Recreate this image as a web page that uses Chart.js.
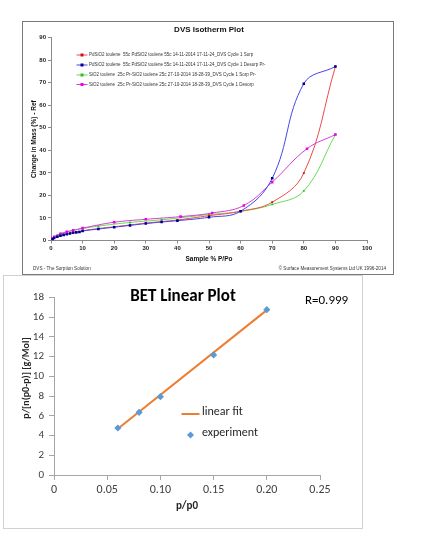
<!DOCTYPE html>
<html>
<head>
<meta charset="utf-8">
<script src="https://cdn.jsdelivr.net/npm/chart.js@4.4.1/dist/chart.umd.min.js"></script>
<style>
  html, body { margin: 0; padding: 0; background: #fff; }
  body { width: 422px; height: 552px; position: relative; overflow: hidden; }
  .box { position: absolute; background: #fff; }
  #isoBox { left: 22px; top: 21px; width: 370px; height: 252px; border: 1px solid #7a7a7a; }
  #betBox { left: 3px; top: 275px; width: 358px; height: 252px; border: 1px solid #d0d0d0; }
  canvas { display: block; }
</style>
</head>
<body>
<div class="box" id="isoBox"><canvas id="isoChart" width="370" height="252"></canvas></div>
<div class="box" id="betBox"><canvas id="betChart" width="358" height="252"></canvas></div>
<script>
// ---- DVS isotherm data ----
const isoNames = [
  'PdSiO2 toulene  55c PdSiO2 toulene 55c 14-11-2014 17-11-24_DVS Cycle 1 Sorp',
  'PdSiO2 toulene  55c PdSiO2 toulene 55c 14-11-2014 17-11-24_DVS Cycle 1 Desorp Pr-',
  'SiO2 toulene  25c Pr-SiO2 toulene 25c 27-10-2014 18-28-39_DVS Cycle 1 Sorp Pr-',
  'SiO2 toulene  25c Pr-SiO2 toulene 25c 27-10-2014 18-28-39_DVS Cycle 1 Desorp'
];
const pdPressure = [0.5, 1, 2, 3, 4, 5, 6, 7, 8, 9, 10, 15, 20, 25, 30, 35, 40, 50, 60, 70, 80, 90];
const pdSorp     = [0.7, 1.2, 1.8, 2.2, 2.6, 2.9, 3.2, 3.5, 3.7, 3.9, 4.3, 5.3, 6.1, 6.9, 7.7, 8.4, 9.1, 11.0, 13.0, 17.0, 29.9, 77.2];
const pdDesorp   = [0.6, 1.1, 1.7, 2.1, 2.5, 2.8, 3.1, 3.4, 3.6, 3.8, 4.2, 5.1, 5.9, 6.7, 7.5, 8.2, 8.8, 10.3, 13.0, 27.6, 69.6, 77.2];
const siSorpPressure = [0.5, 1, 2, 3, 5, 7, 10, 15, 25, 35, 50, 60, 70, 80, 90];
const siSorp         = [1.0, 1.6, 2.4, 3.0, 3.8, 4.5, 5.3, 6.4, 8.0, 9.2, 11.5, 12.9, 16.0, 22.0, 47.0];
const siDesorpPressure = [0.3, 1, 3, 5, 7, 10, 20, 30, 41, 51, 61, 70, 81, 90];
const siDesorp         = [1.0, 1.7, 3.0, 3.9, 4.5, 5.5, 8.1, 9.4, 10.6, 12.2, 15.5, 25.9, 40.7, 47.0];
const isoTicksY = [0, 10, 20, 30, 40, 50, 60, 70, 80, 90];
const isoTicksX = [0, 10, 20, 30, 40, 50, 60, 70, 80, 90, 100];

// ---- BET linear plot data ----
const betX = [0.06, 0.08, 0.1, 0.15, 0.2];
const betY = [4.76, 6.35, 7.93, 12.16, 16.75];
const fitX = [0.06, 0.2];
const fitY = [4.68, 16.7];
const betTicksY = [0, 2, 4, 6, 8, 10, 12, 14, 16, 18];
const betTicksX = [0, 0.05, 0.1, 0.15, 0.2, 0.25];

function pts(xs, ys) {
  return xs.map((x, i) => ({ x: x, y: ys[i] }));
}

const isoFont = '"Liberation Sans", Arial, sans-serif';
const isoColors = [
  { line: '#f04a4a', point: '#d01010' },
  { line: '#4444ee', point: '#000090' },
  { line: '#66dd55', point: '#33bb33' },
  { line: '#d040d0', point: '#ee00ee' }
];

// extra texts + in-plot legend for the isotherm chart
const isoExtras = {
  id: 'isoExtras',
  afterDraw(chart) {
    const ctx = chart.ctx;
    const a = chart.chartArea;
    ctx.save();
    ctx.fillStyle = '#111';
    ctx.textBaseline = 'middle';
    ctx.textAlign = 'center';
    ctx.font = 'bold 8px ' + isoFont;
    ctx.fillText('DVS Isotherm Plot', (a.left + a.right) / 2, 7.5);
    ctx.font = 'bold 6.5px ' + isoFont;
    ctx.fillText('Sample % P/Po', (a.left + a.right) / 2, 237);
    ctx.save();
    ctx.translate(11.5, (a.top + a.bottom) / 2);
    ctx.rotate(-Math.PI / 2);
    ctx.fillText('Change in Mass (%) - Ref', 0, 0);
    ctx.restore();

    // footer
    ctx.font = '4.6px ' + isoFont;
    ctx.fillStyle = '#333';
    ctx.textAlign = 'left';
    ctx.fillText('DVS - The Sorption Solution', 10, 246.5);
    ctx.textAlign = 'right';
    ctx.fillText('\u00A9 Surface Measurement Systems Ltd UK 1996-2014', 363, 246.5);

    // legend inside the plot
    const rows = [33, 43, 53, 62.5];
    ctx.textAlign = 'left';
    ctx.font = '4.5px ' + isoFont;
    isoNames.forEach((name, i) => {
      const y = rows[i];
      ctx.strokeStyle = isoColors[i].line;
      ctx.lineWidth = 1;
      ctx.beginPath();
      ctx.moveTo(53.5, y);
      ctx.lineTo(64.5, y);
      ctx.stroke();
      ctx.fillStyle = isoColors[i].point;
      ctx.fillRect(57.5, y - 1.5, 3, 3);
      ctx.fillStyle = '#333';
      ctx.fillText(name, 66, y);
    });
    ctx.restore();
  }
};

function isoSet(i, xs, ys, order, radius) {
  return {
    label: isoNames[i],
    data: pts(xs, ys),
    showLine: true,
    tension: 0.4,
    borderColor: isoColors[i].line,
    borderWidth: 1,
    pointStyle: 'rect',
    pointRadius: radius,
    pointBackgroundColor: isoColors[i].point,
    pointBorderColor: isoColors[i].point,
    pointBorderWidth: 0,
    order: order
  };
}

new Chart(document.getElementById('isoChart'), {
  type: 'scatter',
  data: {
    datasets: [
      isoSet(0, pdPressure, pdSorp, 2, 1.3),
      isoSet(1, pdPressure, pdDesorp, 0, 1.8),
      isoSet(2, siSorpPressure, siSorp, 3, 1.3),
      isoSet(3, siDesorpPressure, siDesorp, 1, 1.8)
    ]
  },
  options: {
    responsive: false,
    animation: false,
    layout: { padding: { left: 0, right: 26, top: 15.7, bottom: 0 } },
    plugins: { legend: { display: false }, tooltip: { enabled: false } },
    scales: {
      x: {
        type: 'linear', min: 0, max: 100,
        afterBuildTicks: s => { s.ticks = isoTicksX.map(v => ({ value: v })); },
        afterFit: s => { s.height = 33.5; },
        grid: { drawOnChartArea: false, tickLength: 3, color: '#8a8a8a' },
        border: { color: '#8a8a8a' },
        ticks: { padding: 1, color: '#222', font: { family: isoFont, size: 6, weight: 'bold' }, maxRotation: 0 }
      },
      y: {
        type: 'linear', min: 0, max: 90,
        afterBuildTicks: s => { s.ticks = isoTicksY.map(v => ({ value: v })); },
        afterFit: s => { s.width = 28; },
        grid: { drawOnChartArea: false, tickLength: 3, color: '#8a8a8a' },
        border: { color: '#8a8a8a' },
        ticks: { padding: 2, color: '#222', font: { family: isoFont, size: 6, weight: 'bold' } }
      }
    }
  },
  plugins: [isoExtras]
});

// ---- BET chart ----
const betFont = 'Carlito, "Liberation Sans Narrow", Lato, sans-serif';
const fitColor = '#ed7d31';
const expColor = '#5b9bd5';

const betExtras = {
  id: 'betExtras',
  afterDraw(chart) {
    const ctx = chart.ctx;
    const a = chart.chartArea;
    ctx.save();
    ctx.textBaseline = 'middle';
    ctx.fillStyle = '#000';
    ctx.textAlign = 'center';
    ctx.font = 'bold 17px ' + betFont;
    ctx.fillText('BET Linear Plot', 179, 21);
    ctx.font = '13px ' + betFont;
    ctx.textAlign = 'left';
    ctx.fillText('R=0.999', 301, 25);

    ctx.fillStyle = '#262626';
    ctx.textAlign = 'center';
    ctx.font = 'bold 11px ' + betFont;
    ctx.fillText('p/p0', 183, 230);
    ctx.font = 'bold 10px ' + betFont;
    ctx.save();
    ctx.translate(22, 102);
    ctx.rotate(-Math.PI / 2);
    ctx.fillText('p/[n(p0-p)] [g/Mol]', 0, 0);
    ctx.restore();

    // legend inside the plot
    ctx.strokeStyle = fitColor;
    ctx.lineWidth = 2;
    ctx.beginPath();
    ctx.moveTo(177.5, 138);
    ctx.lineTo(195.5, 138);
    ctx.stroke();
    ctx.fillStyle = expColor;
    ctx.beginPath();
    ctx.moveTo(186.5, 155.5);
    ctx.lineTo(190, 159);
    ctx.lineTo(186.5, 162.5);
    ctx.lineTo(183, 159);
    ctx.closePath();
    ctx.fill();
    ctx.fillStyle = '#262626';
    ctx.textAlign = 'left';
    ctx.font = '12px ' + betFont;
    ctx.fillText('linear fit', 198, 136);
    ctx.fillText('experiment', 198, 157);
    ctx.restore();
  }
};

new Chart(document.getElementById('betChart'), {
  type: 'scatter',
  data: {
    datasets: [
      {
        label: 'linear fit',
        data: pts(fitX, fitY),
        showLine: true,
        borderColor: fitColor,
        borderWidth: 2,
        pointRadius: 0,
        order: 1
      },
      {
        label: 'experiment',
        data: pts(betX, betY),
        showLine: false,
        pointStyle: 'rectRot',
        pointRadius: 3.6,
        backgroundColor: expColor,
        borderColor: expColor,
        borderWidth: 0,
        order: 0
      }
    ]
  },
  options: {
    responsive: false,
    animation: false,
    layout: { padding: { left: 0, right: 42, top: 21.3, bottom: 0 } },
    plugins: { legend: { display: false }, tooltip: { enabled: false } },
    scales: {
      x: {
        type: 'linear', min: 0, max: 0.25,
        afterBuildTicks: s => { s.ticks = betTicksX.map(v => ({ value: v })); },
        afterFit: s => { s.height = 53; },
        grid: { drawOnChartArea: false, tickLength: 5, color: '#a6a6a6' },
        border: { color: '#a6a6a6' },
        ticks: { padding: 3, color: '#404040', font: { family: betFont, size: 12 }, maxRotation: 0 }
      },
      y: {
        type: 'linear', min: 0, max: 18,
        afterBuildTicks: s => { s.ticks = betTicksY.map(v => ({ value: v })); },
        afterFit: s => { s.width = 50; },
        grid: { drawOnChartArea: false, tickLength: 5, color: '#a6a6a6' },
        border: { color: '#a6a6a6' },
        ticks: { padding: 5, color: '#404040', font: { family: betFont, size: 11 } }
      }
    }
  },
  plugins: [betExtras]
});
</script>
</body>
</html>
